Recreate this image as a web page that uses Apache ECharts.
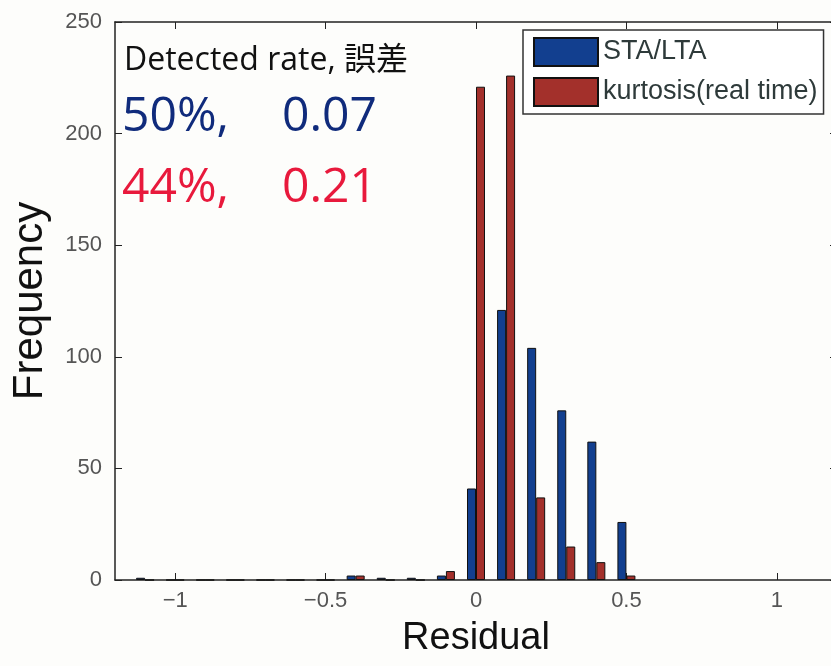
<!DOCTYPE html>
<html>
<head>
<meta charset="utf-8">
<script src="https://cdn.jsdelivr.net/npm/echarts@6/dist/echarts.min.js"></script>
<style>
  html, body { margin: 0; padding: 0; background: #fdfdfb; overflow: hidden; width: 831px; height: 666px; }
  #chart { width: 845px; height: 666px; }
</style>
</head>
<body>
<div id="chart"></div>
<script>
// histogram bin centres (residual) and counts
var binCenters = [-1.1, -1.0, -0.9, -0.8, -0.7, -0.6, -0.5, -0.4, -0.3, -0.2, -0.1, 0.0, 0.1, 0.2, 0.3, 0.4, 0.5];
var staLta     = [1, 0, 0, 0, 0, 0, 0, 2, 1, 1, 2, 41, 121, 104, 76, 62, 26];
var kurtosis   = [0, 0, 0, 0, 0, 0, 0, 2, 0, 0, 4, 221, 226, 37, 15, 8, 2];
var xTicks = [-1, -0.5, 0, 0.5, 1];
var seriesNames = ['STA/LTA', 'kurtosis(real time)'];

function pairs(vals) {
  return binCenters.map(function (c, i) { return [c, vals[i]]; });
}
function minus(v) { return String(v).replace('-', '\u2212'); }

var chart = echarts.init(document.getElementById('chart'));
var axisCol = '#222';
var noteFont = '"Open Sans", "Noto Sans CJK JP"';
var option = {
  backgroundColor: '#fdfdfb',
  animation: false,
  // the right edge of the axes box lies just outside the 831px view, as in the scan
  grid: { left: 115, top: 22, right: 8, bottom: 86 },
  legend: {
    orient: 'vertical',
    left: 523, top: 30,
    padding: [7, 6, 7, 10],
    itemGap: 10,
    itemWidth: 64, itemHeight: 28,
    icon: 'rect',
    backgroundColor: '#fff',
    borderColor: '#333',
    borderWidth: 1.5,
    textStyle: { fontFamily: 'Liberation Sans, Arial', fontSize: 27, color: '#2e3a3a' },
    data: seriesNames
  },
  xAxis: [{
    type: 'value', min: -1.2, max: 1.2, position: 'bottom',
    name: 'Residual', nameLocation: 'middle', nameGap: 40,
    nameTextStyle: { fontFamily: 'Liberation Sans, Arial', fontSize: 38, color: '#111' },
    axisLine: { onZero: false, lineStyle: { color: axisCol, width: 1.5 } },
    axisTick: { inside: true, length: 7, customValues: xTicks, lineStyle: { color: axisCol } },
    axisLabel: { customValues: xTicks, margin: 10, fontFamily: 'Liberation Sans, Arial', fontSize: 22, color: '#555',
      formatter: function (v) { return minus(v); } },
    splitLine: { show: false }
  }, {
    type: 'value', min: -1.2, max: 1.2, position: 'top',
    axisLine: { onZero: false, lineStyle: { color: axisCol, width: 1.5 } },
    axisTick: { inside: true, length: 7, customValues: xTicks, lineStyle: { color: axisCol } },
    axisLabel: { show: false },
    splitLine: { show: false }
  }],
  yAxis: [{
    type: 'value', min: 0, max: 250, interval: 50, position: 'left',
    name: 'Frequency', nameLocation: 'middle', nameGap: 64,
    nameTextStyle: { fontFamily: 'Liberation Sans, Arial', fontSize: 42, color: '#111' },
    axisLine: { show: true, onZero: false, lineStyle: { color: axisCol, width: 1.5 } },
    axisTick: { show: true, inside: true, length: 7, lineStyle: { color: axisCol } },
    axisLabel: { margin: 13, fontFamily: 'Liberation Sans, Arial', fontSize: 22, color: '#555' },
    splitLine: { show: false }
  }, {
    type: 'value', min: 0, max: 250, interval: 50, position: 'right',
    axisLine: { show: true, onZero: false, lineStyle: { color: axisCol, width: 1.5 } },
    axisTick: { show: true, inside: true, length: 7 },
    axisLabel: { show: false },
    splitLine: { show: false }
  }],
  series: [{
    name: seriesNames[0], type: 'bar',
    barWidth: 9, barGap: '0%',
    itemStyle: { color: '#123f8f', borderColor: '#111', borderWidth: 1 },
    data: pairs(staLta)
  }, {
    name: seriesNames[1], type: 'bar',
    barWidth: 9, barGap: '0%',
    itemStyle: { color: '#a3302b', borderColor: '#111', borderWidth: 1 },
    data: pairs(kurtosis)
  }],
  graphic: [
    { type: 'text', left: 124, top: 45, style: { text: 'Detected rate, 誤差', font: '32px ' + noteFont, fill: '#111' } },
    { type: 'text', left: 122, top: 93, style: { text: '50%,', font: '48px ' + noteFont, fill: '#102b7c' } },
    { type: 'text', left: 282, top: 93, style: { text: '0.07', font: '48px ' + noteFont, fill: '#102b7c' } },
    { type: 'text', left: 122, top: 164, style: { text: '44%,', font: '48px ' + noteFont, fill: '#e8193c' } },
    { type: 'text', left: 282, top: 164, style: { text: '0.21', font: '48px ' + noteFont, fill: '#e8193c' } }
  ]
};
chart.setOption(option);
</script>
</body>
</html>
